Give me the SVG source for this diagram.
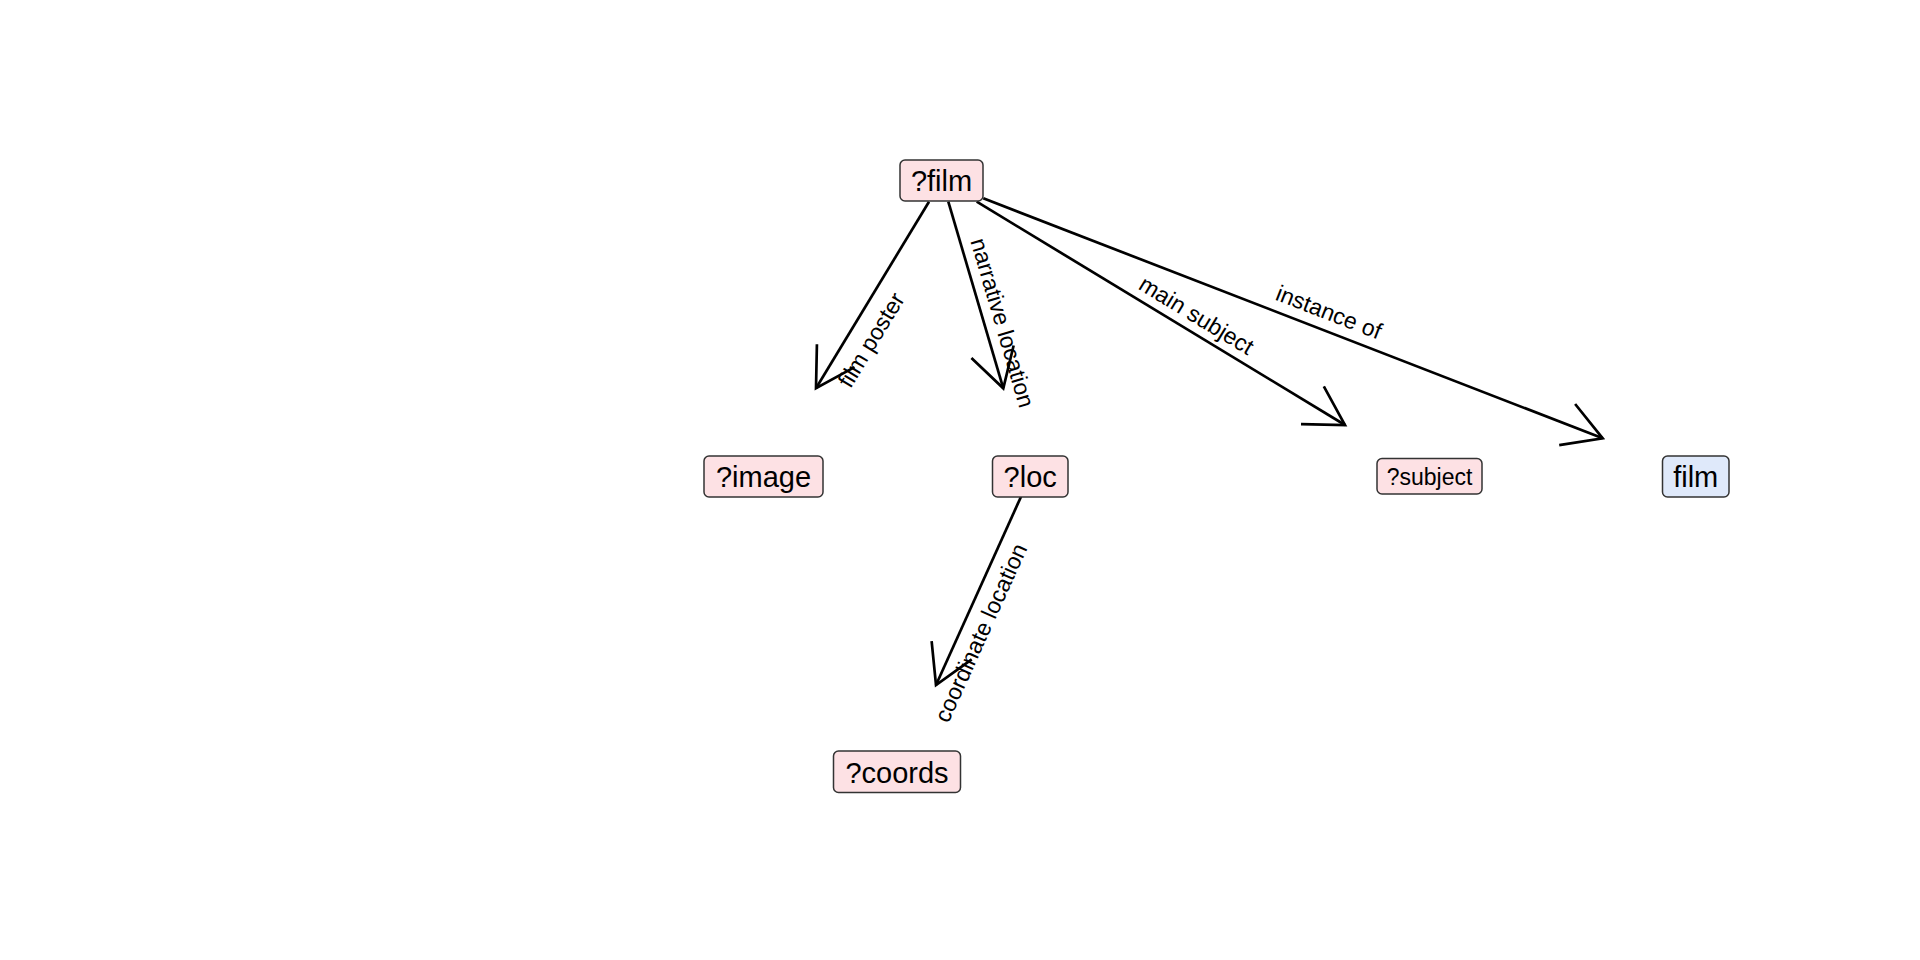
<svg xmlns="http://www.w3.org/2000/svg" width="1920" height="960" viewBox="0 0 1920 960">
  <defs>
    <style>
      .node rect { stroke: #333333; stroke-width: 1.5; rx: 5; ry: 5; }
      .var rect { fill: #fde1e4; }
      .const rect { fill: #dfe9fa; }
      .node text { font-family: "Liberation Sans", Arial, Helvetica, sans-serif; font-size: 29px; fill: #000; text-anchor: middle; }
      .node.small text { font-size: 23px; }
      .edge { stroke: #000; stroke-width: 2.7; fill: none; marker-end: url(#arrow); }
      .label { font-family: "Liberation Sans", Arial, Helvetica, sans-serif; font-size: 23px; fill: #000; text-anchor: middle; }
    </style>
    <!-- open V-shaped arrowhead, 44px arms at 30 degrees -->
    <marker id="arrow" markerUnits="userSpaceOnUse" markerWidth="100" markerHeight="100" refX="0" refY="0" orient="auto" overflow="visible">
      <path d="M-38.1,-22 L0,0 L-38.1,22" fill="none" stroke="#000" stroke-width="2.7"/>
    </marker>
  </defs>
  <rect width="1920" height="960" fill="#ffffff"/>

  <g id="connectors">
    <line class="edge" x1="929" y1="201.7" x2="816" y2="388.3"/>
    <line class="edge" x1="948.3" y1="201.7" x2="1003.3" y2="388.3"/>
    <line class="edge" x1="976.7" y1="201.7" x2="1345" y2="425"/>
    <line class="edge" x1="983.3" y1="198.3" x2="1602.7" y2="438.3"/>
    <line class="edge" x1="1021" y1="496.7" x2="936" y2="685"/>
    <text class="label" transform="translate(878,344) rotate(-58.8)">film poster</text>
    <text class="label" transform="translate(995,325) rotate(73.6)">narrative location</text>
    <text class="label" transform="translate(1192.4,322) rotate(31.2)">main subject</text>
    <text class="label" transform="translate(1326,319.5) rotate(21.2)">instance of</text>
    <text class="label" transform="translate(988,636) rotate(-65.7)">coordinate location</text>
  </g>

  <g id="node-film-var" class="node var">
    <rect x="900" y="160" width="83" height="41"/>
    <text x="941.5" y="191">?film</text>
  </g>
  <g id="node-image" class="node var">
    <rect x="704" y="456" width="119" height="41"/>
    <text x="763.5" y="487">?image</text>
  </g>
  <g id="node-loc" class="node var">
    <rect x="992.5" y="456" width="75.5" height="41"/>
    <text x="1030.2" y="487">?loc</text>
  </g>
  <g id="node-subject" class="node var small">
    <rect x="1377" y="458.5" width="105" height="35.5"/>
    <text x="1429.5" y="484.5">?subject</text>
  </g>
  <g id="node-film-class" class="node const">
    <rect x="1662.5" y="456" width="66.5" height="41"/>
    <text x="1695.7" y="487">film</text>
  </g>
  <g id="node-coords" class="node var">
    <rect x="833.5" y="751" width="127" height="41.5"/>
    <text x="897" y="782.5">?coords</text>
  </g>
</svg>
